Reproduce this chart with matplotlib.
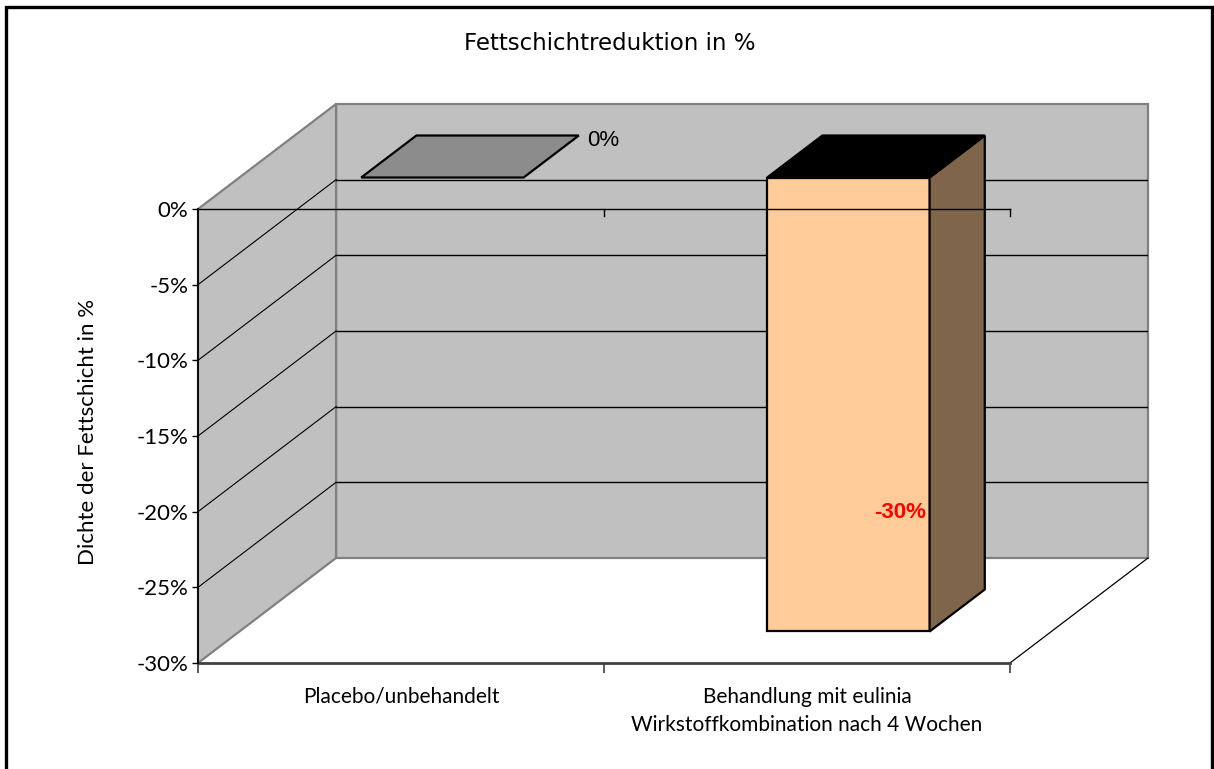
import matplotlib
matplotlib.use('Agg')
import matplotlib.pyplot as plt
from matplotlib.patches import Polygon, Rectangle

categories = ['Placebo/unbehandelt',
              'Behandlung mit eulinia\nWirkstoffkombination nach 4 Wochen']
values = [0, -30]
value_labels = ['0%', '-30%']
yticks = [0, -5, -10, -15, -20, -25, -30]
ytick_labels = ['0%', '-5%', '-10%', '-15%', '-20%', '-25%', '-30%']
title = 'Fettschichtreduktion in %'
ylabel = 'Dichte der Fettschicht in %'

# fake 3d: depth axis projected into data units
DX = 0.34
DY = 6.94
Z0, Z1 = 0.3, 0.7
BAR_W = 0.40
YMIN = -30

front_colors = ['#8c8c8c', '#ffcc99']
side_colors = ['#8c8c8c', '#7f6549']
cap_colors = ['#8c8c8c', '#000000']
label_offsets = [(6, -3.5), (-21, 86)]
label_styles = [dict(color='black', fontsize=16, fontweight='normal', ha='left'),
                dict(color='red', fontsize=16, fontweight='bold', ha='center')]

WALL = '#c0c0c0'
EDGE = '#808080'
AXFONT = ['Lato', 'DejaVu Sans']


def proj(x, y, z):
    return (x + z * DX, y + z * DY)


fig = plt.figure(figsize=(12.14, 7.69), dpi=100)
ax = fig.add_axes([198 / 1214, (769 - 663) / 769, 950 / 1214, 559 / 769])
ax.set_xlim(0, 2 + DX)
ax.set_ylim(YMIN, DY)
ax.set_facecolor('none')

# walls
back = Polygon([proj(0, YMIN, 1), proj(2, YMIN, 1), proj(2, 0, 1), proj(0, 0, 1)],
               fc=WALL, ec=EDGE, lw=1.6, zorder=1, clip_on=False)
side = Polygon([proj(0, YMIN, 0), proj(0, YMIN, 1), proj(0, 0, 1), proj(0, 0, 0)],
               fc=WALL, ec=EDGE, lw=1.6, zorder=1, clip_on=False)
ax.add_patch(back)
ax.add_patch(side)

# floor right edge
fx, fy = zip(proj(2, YMIN, 1), proj(2, YMIN, 0))
ax.plot(fx, fy, color='black', lw=0.9, zorder=2, clip_on=False)

# gridlines on back and side wall
for v in yticks[1:-1]:
    gx, gy = zip(proj(0, v, 1), proj(2, v, 1))
    ax.plot(gx, gy, color='black', lw=1.0, zorder=2)
    sx, sy = zip(proj(0, v, 0), proj(0, v, 1))
    ax.plot(sx, sy, color='black', lw=0.8, zorder=2)

# bars
for i, v in enumerate(values):
    xl = i + 0.5 - BAR_W / 2
    xr = xl + BAR_W
    top = max(v, 0)
    bot = min(v, 0)
    if top != bot:
        ax.add_patch(Polygon([proj(xl, bot, Z0), proj(xr, bot, Z0), proj(xr, top, Z0), proj(xl, top, Z0)],
                             fc=front_colors[i], ec='black', lw=1.6, zorder=3, joinstyle='miter'))
        ax.add_patch(Polygon([proj(xr, bot, Z0), proj(xr, bot, Z1), proj(xr, top, Z1), proj(xr, top, Z0)],
                             fc=side_colors[i], ec='black', lw=1.6, zorder=3, joinstyle='miter'))
    ax.add_patch(Polygon([proj(xl, top, Z0), proj(xr, top, Z0), proj(xr, top, Z1), proj(xl, top, Z1)],
                         fc=cap_colors[i], ec='black', lw=1.6, zorder=3, joinstyle='miter'))
    if v < 0:
        anchor = proj(xr, v, Z0)
    else:
        anchor = proj(xr, top, Z1)
    ax.annotate(value_labels[i], xy=anchor, xytext=label_offsets[i], textcoords='offset points',
                va='center', family=['Liberation Sans', 'DejaVu Sans'], zorder=6,
                **label_styles[i])

# category axis at zero, drawn on top
ax.plot([0, 2], [0, 0], color='black', lw=1.0, zorder=5)
for x in [1, 2]:
    ax.plot([x, x], [0, -0.45], color='black', lw=1.0, zorder=5)

# spines / ticks
for s in ['top', 'right']:
    ax.spines[s].set_visible(False)
ax.spines['left'].set_bounds(YMIN, 0)
ax.spines['left'].set_color('black')
ax.spines['left'].set_linewidth(1.3)
ax.spines['left'].set_zorder(4)
ax.spines['bottom'].set_bounds(0, 2)
ax.spines['bottom'].set_color('#404040')
ax.spines['bottom'].set_linewidth(2.0)

ax.set_yticks(yticks)
ax.set_yticklabels(ytick_labels, family=AXFONT, fontsize=16, color='black')
ax.tick_params(axis='y', direction='out', length=4, width=1, pad=3)

ax.set_xticks([0.5, 1.5])
ax.set_xticklabels(categories, family=AXFONT, fontsize=15, linespacing=1.5, color='black')
ax.set_xticks([0, 1, 2], minor=True)
ax.tick_params(axis='x', which='major', length=0, pad=17)
ax.tick_params(axis='x', which='minor', direction='out', length=7, width=1.2, color='#404040')

ax.set_ylabel(ylabel, family=AXFONT, fontsize=16, color='black')
ax.yaxis.set_label_coords(-0.105, 0.413)

fig.text(610 / 1214, 1 - 44 / 769, title, ha='center', va='center', fontsize=16.5,
         family=['DejaVu Sans'])

# chart border
fig.add_artist(Rectangle((6 / 1214, -0.05), (1212 - 6) / 1214, (769 - 7) / 769 + 0.05,
                         transform=fig.transFigure, fill=False, ec='black', lw=2.4))

plt.savefig('out.png', dpi=100)
